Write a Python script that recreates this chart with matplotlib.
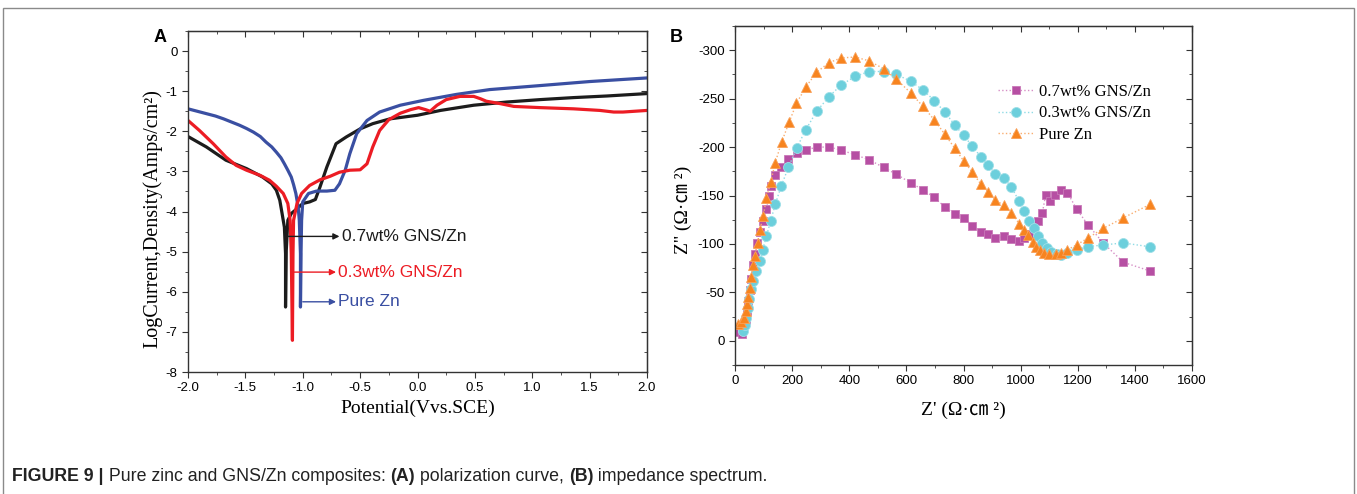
import matplotlib
matplotlib.use("Agg")
import matplotlib.pyplot as plt
from matplotlib.patches import Rectangle
from matplotlib.ticker import MultipleLocator

plt.rcParams['axes.unicode_minus'] = False
plt.rcParams['font.family'] = ['Liberation Sans', 'DejaVu Sans']

# ---- polarization curves: potential (V vs SCE) and log current density ----
e_07 = [-2.0, -1.84, -1.67, -1.49, -1.35, -1.27, -1.23, -1.20, -1.18, -1.16, -1.15, -1.15,
        -1.145, -1.13, -1.10, -1.05, -1.0, -0.94, -0.89, -0.85, -0.79, -0.71, -0.62, -0.50,
        -0.39, -0.24, 0.0, 0.20, 0.49, 0.78, 1.07, 1.36, 1.65, 2.0]
i_07 = [-2.13, -2.39, -2.72, -2.93, -3.14, -3.31, -3.47, -3.72, -4.05, -4.39, -5.05, -6.38,
        -5.05, -4.22, -4.05, -3.93, -3.80, -3.76, -3.70, -3.39, -2.89, -2.31, -2.14, -1.94,
        -1.81, -1.69, -1.60, -1.48, -1.35, -1.27, -1.21, -1.16, -1.12, -1.06]

e_03 = [-2.0, -1.90, -1.78, -1.67, -1.58, -1.49, -1.37, -1.29, -1.23, -1.17, -1.13, -1.11,
        -1.10, -1.09, -1.085, -1.08, -1.05, -1.01, -0.94, -0.85, -0.76, -0.68, -0.59, -0.50,
        -0.44, -0.39, -0.33, -0.25, -0.15, -0.06, 0.01, 0.07, 0.11, 0.17, 0.25, 0.37, 0.49,
        0.55, 0.60, 0.72, 0.84, 1.07, 1.36, 1.59, 1.71, 1.79, 2.0]
i_03 = [-1.73, -1.98, -2.31, -2.64, -2.85, -2.97, -3.10, -3.22, -3.37, -3.55, -3.80, -4.22,
        -5.05, -7.21, -5.05, -4.22, -3.80, -3.55, -3.35, -3.21, -3.12, -3.02, -2.97, -2.96,
        -2.81, -2.39, -1.98, -1.71, -1.55, -1.46, -1.41, -1.46, -1.50, -1.35, -1.21, -1.13, -1.13,
        -1.19, -1.25, -1.31, -1.38, -1.41, -1.44, -1.48, -1.52, -1.52, -1.48]

e_zn = [-2.0, -1.92, -1.84, -1.76, -1.69, -1.62, -1.55, -1.49, -1.43, -1.37, -1.32, -1.27,
        -1.23, -1.19, -1.16, -1.13, -1.10, -1.08, -1.06, -1.04, -1.03, -1.02, -1.02, -1.015,
        -1.01, -1.00, -0.95, -0.88, -0.79, -0.72, -0.68, -0.63, -0.59, -0.53, -0.44, -0.33,
        -0.15, 0.05, 0.34, 0.63, 1.07, 1.50, 2.0]
i_zn = [-1.44, -1.50, -1.56, -1.62, -1.69, -1.77, -1.85, -1.93, -2.02, -2.13, -2.27, -2.39,
        -2.52, -2.66, -2.81, -2.97, -3.14, -3.33, -3.55, -3.89, -4.22, -5.05, -6.38, -5.05,
        -4.22, -3.76, -3.55, -3.49, -3.49, -3.47, -3.31, -2.97, -2.56, -2.06, -1.73, -1.52,
        -1.35, -1.23, -1.08, -0.96, -0.86, -0.76, -0.67]

# ---- impedance spectra: Z' and Z'' (ohm cm^2) ----
zr_07 = [12, 25, 37, 42, 47, 52, 57, 62, 70, 77, 87, 97, 109, 119, 127, 141, 162, 187, 217,
         248, 287, 329, 371, 421, 469, 520, 565, 615, 658, 698, 735, 769, 800, 831, 860, 886,
         911, 942, 967, 995, 1011, 1030, 1046, 1061, 1076, 1088, 1104, 1121, 1142, 1164, 1196,
         1235, 1289, 1360, 1454]
zi_07 = [-9, -7, -21, -31, -41, -52, -64, -78, -90, -101, -112, -124, -136, -149, -160, -171,
         -179, -188, -194, -197, -200, -200, -197, -192, -187, -179, -172, -163, -156, -148,
         -138, -131, -127, -119, -112, -110, -106, -108, -105, -103, -106, -110, -117, -124,
         -132, -151, -144, -151, -156, -153, -136, -120, -101, -81, -72]

zr_03 = [27, 35, 40, 45, 50, 56, 62, 72, 87, 97, 110, 125, 141, 162, 187, 216, 248, 286, 329,
         371, 421, 469, 520, 565, 615, 658, 698, 735, 769, 800, 831, 860, 886, 911, 942, 967,
         995, 1011, 1030, 1046, 1061, 1076, 1092, 1107, 1126, 1142, 1164, 1196, 1235, 1289,
         1360, 1454]
zi_03 = [-10, -16, -24, -34, -43, -53, -62, -72, -82, -94, -108, -124, -141, -160, -179, -199,
         -218, -237, -252, -264, -273, -278, -278, -275, -268, -259, -248, -236, -223, -212,
         -201, -190, -182, -172, -168, -159, -144, -134, -124, -116, -108, -101, -96, -92, -90,
         -89, -91, -94, -97, -99, -101, -97]

zr_zn = [12, 22, 32, 37, 42, 47, 52, 57, 64, 70, 79, 87, 99, 110, 125, 141, 163, 190, 215, 248,
         285, 328, 371, 421, 469, 520, 565, 615, 658, 698, 735, 769, 800, 831, 860, 886, 911,
         942, 967, 995, 1011, 1027, 1042, 1055, 1067, 1083, 1101, 1123, 1142, 1164, 1196, 1235,
         1289, 1360, 1454]
zi_zn = [-17, -19, -24, -31, -38, -45, -55, -66, -78, -88, -101, -114, -129, -147, -164, -184,
         -205, -226, -245, -262, -277, -287, -292, -293, -289, -281, -270, -256, -242, -228,
         -213, -199, -186, -174, -162, -154, -145, -140, -132, -121, -114, -109, -102, -97,
         -94, -91, -90, -90, -91, -94, -99, -106, -116, -127, -141]

labels = ['0.7wt% GNS/Zn', '0.3wt% GNS/Zn', 'Pure Zn']

W, H = 1357, 494
fig = plt.figure(figsize=(W / 100, H / 100), dpi=100)

# thin frame around the whole figure panel
fig.patches.append(Rectangle((3 / W, -0.1), 1351 / W, 1.1 - 8 / H, transform=fig.transFigure,
                             fill=False, edgecolor='#8a8a8a', lw=1.0))


def style_axes(ax):
    for s in ax.spines.values():
        s.set_linewidth(1.0)
        s.set_color('#333333')
    ax.tick_params(which='both', direction='out', top=False, right=False, labelsize=9.5,
                   color='#333333')
    ax.tick_params(which='major', length=4)
    ax.tick_params(which='minor', length=2.5)
    # inward ticks on the top and right frame
    sec_x = ax.secondary_xaxis('top')
    sec_y = ax.secondary_yaxis('right')
    for sec in (sec_x, sec_y):
        sec.tick_params(which='both', direction='in', labelsize=0, color='#333333')
        sec.tick_params(which='major', length=4)
        sec.tick_params(which='minor', length=2.5)
    sec_x.set_xticklabels([])
    sec_y.set_yticklabels([])
    return sec_x, sec_y


# ---------------- panel A ----------------
axA = fig.add_axes([188 / W, 1 - 372 / H, 459 / W, 341 / H])
axA.plot(e_07, i_07, color='#1c1c1c', lw=2.3, solid_joinstyle='round')
axA.plot(e_zn, i_zn, color='#3a4fa2', lw=2.3, solid_joinstyle='round')
axA.plot(e_03, i_03, color='#ec1c24', lw=2.3, solid_joinstyle='round')
axA.set_xlim(-2.0, 2.0)
axA.set_ylim(-8, 0.5)
axA.xaxis.set_minor_locator(MultipleLocator(0.25))
axA.yaxis.set_minor_locator(MultipleLocator(0.5))
axA.set_xticks([-2.0, -1.5, -1.0, -0.5, 0.0, 0.5, 1.0, 1.5, 2.0])
axA.set_xticklabels(['-2.0', '-1.5', '-1.0', '-0.5', '0.0', '0.5', '1.0', '1.5', '2.0'])
axA.set_yticks(range(-8, 1))
axA.set_yticklabels([str(v) for v in range(-8, 1)])
sx, sy = style_axes(axA)
sx.xaxis.set_major_locator(MultipleLocator(0.5))
sx.xaxis.set_minor_locator(MultipleLocator(0.25))
sy.yaxis.set_major_locator(MultipleLocator(1))
sy.yaxis.set_minor_locator(MultipleLocator(0.5))

serif = ['Liberation Serif', 'DejaVu Serif']
axA.text(0.5, -0.107, 'Potential(Vvs.SCE)', transform=axA.transAxes, ha='center',
         va='center', fontsize=14, family=serif)
axA.text(-0.078, 0.45, 'LogCurrent,Density(Amps/cm²)', transform=axA.transAxes,
         ha='center', va='center', rotation=90, fontsize=14.5, family=serif)

# labelled arrows at the corrosion potentials
notes = [(-1.15, -4.62, -0.68, '#1c1c1c', labels[0]),
         (-1.09, -5.51, -0.71, '#ec1c24', labels[1]),
         (-1.00, -6.25, -0.71, '#3a4fa2', labels[2])]
for x0, y0, x1, c, t in notes:
    axA.annotate('', xy=(x1, y0), xytext=(x0, y0),
                 arrowprops=dict(arrowstyle='-|>', color=c, lw=1.0, mutation_scale=9,
                                 shrinkA=0, shrinkB=0))
    axA.text(x1 + 0.02, y0, t, color=c, fontsize=12.5, ha='left', va='center')

fig.text(160 / W, 1 - 37 / H, 'A', fontsize=13, fontweight='bold', ha='center', va='center')

# ---------------- panel B ----------------
axB = fig.add_axes([735 / W, 1 - 365 / H, 457 / W, 339 / H])
axB.plot(zr_07, zi_07, ls=':', lw=1.0, color='#d68fc6', marker='s', ms=6.2,
         mfc='#b64fa3', mec='#c978b8', mew=0.6, label=labels[0])
axB.plot(zr_03, zi_03, ls=':', lw=1.0, color='#8fdbe5', marker='o', ms=7.2,
         mfc='#6ccfdc', mec='#9fdfe8', mew=0.6, label=labels[1])
axB.plot(zr_zn, zi_zn, ls=':', lw=1.0, color='#f9ad70', marker='^', ms=7.6,
         mfc='#f7841f', mec='#f9a058', mew=0.6, label=labels[2])
axB.set_xlim(0, 1600)
axB.set_ylim(25, -325)
axB.xaxis.set_major_locator(MultipleLocator(200))
axB.xaxis.set_minor_locator(MultipleLocator(100))
axB.yaxis.set_minor_locator(MultipleLocator(25))
axB.set_yticks([0, -50, -100, -150, -200, -250, -300])
axB.set_yticklabels(['0', '-50', '-100', '-150', '-200', '-250', '-300'])
sx, sy = style_axes(axB)
sx.xaxis.set_major_locator(MultipleLocator(200))
sx.xaxis.set_minor_locator(MultipleLocator(100))
sy.yaxis.set_major_locator(MultipleLocator(50))
sy.yaxis.set_minor_locator(MultipleLocator(25))

cjk = ['Liberation Serif', 'Noto Sans CJK SC', 'DejaVu Serif']
axB.text(0.499, -0.133, "Z' (Ω·㎝ ²)", transform=axB.transAxes, ha='center', va='center',
         fontsize=14, family=cjk)
axB.text(-0.114, 0.457, "Z'' (Ω·㎝ ²)", transform=axB.transAxes, ha='center', va='center',
         rotation=90, fontsize=14, family=cjk)

leg = axB.legend(loc='upper left', bbox_to_anchor=(0.56, 0.85), frameon=False,
                 prop={'family': serif, 'size': 12}, handlelength=2.2, handletextpad=0.3,
                 labelspacing=0.35, borderaxespad=0)

fig.text(676 / W, 1 - 37 / H, 'B', fontsize=13, fontweight='bold', ha='center', va='center')

# ---------------- caption ----------------
parts = [('FIGURE 9 |', 'bold'), (' Pure zinc and GNS/Zn composites: ', 'normal'),
         ('(A)', 'bold'), (' polarization curve, ', 'normal'), ('(B)', 'bold'),
         (' impedance spectrum.', 'normal')]
renderer = fig.canvas.get_renderer()
x = 12 / W
for txt, wt in parts:
    t = fig.text(x, 1 - 476 / H, txt, fontsize=12.8, fontweight=wt, ha='left', va='center',
                 color='#222222')
    bb = t.get_window_extent(renderer=renderer)
    x += bb.width / W

fig.savefig('out.png', dpi=100)
